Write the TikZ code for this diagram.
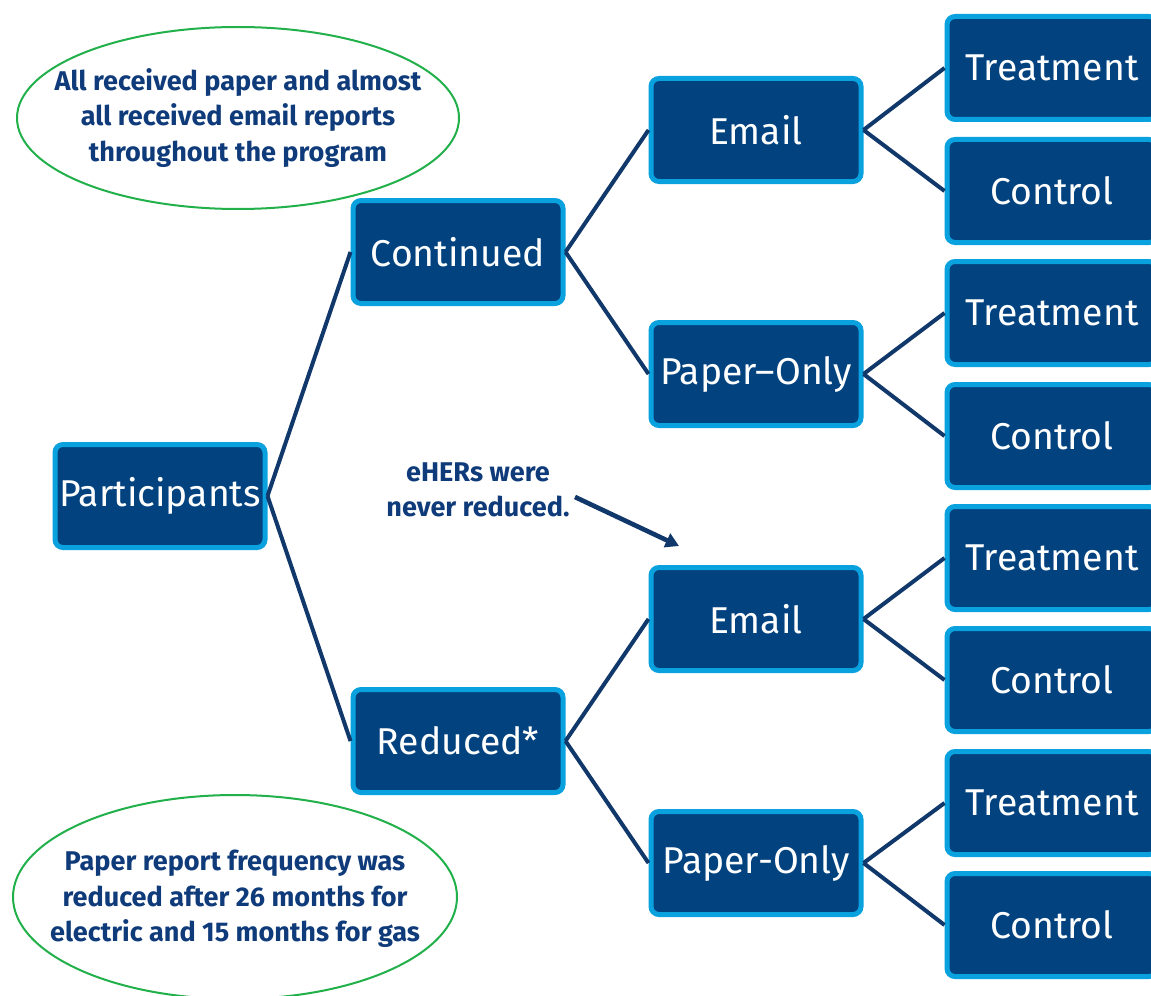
\documentclass[tikz,border=0pt]{standalone}
\usepackage{fontspec}
\setmainfont{Fira Sans}
\usetikzlibrary{arrows.meta}
\definecolor{boxfill}{HTML}{02427F}
\definecolor{boxedge}{HTML}{0AA2DE}
\definecolor{linkcol}{HTML}{11386A}
\definecolor{txtnavy}{HTML}{0F3B7A}
\definecolor{ellgreen}{HTML}{22B04A}
\tikzset{
  stepbox/.style={rectangle, rounded corners=6pt, fill=boxfill, draw=boxedge,
    line width=3.75pt, minimum width=157.5pt, minimum height=77.25pt,
    text=white, font=\fontsize{28}{32}\selectfont, inner sep=0pt},
  link/.style={draw=linkcol, line width=3pt},
  notetext/.style={text=txtnavy, font=\bfseries\fontsize{20.3}{26.5}\selectfont, align=center, inner sep=0pt},
  noteline/.style={draw=ellgreen, line width=1.5pt},
}
\begin{document}
\begin{tikzpicture}[x=0.75pt,y=-0.75pt]
\useasboundingbox (0,0) rectangle (1151,995);
\fill[white] (0,0) rectangle (1151,995);
% ellipses
\node[notetext] (n1) at (238,118) {All received paper and almost\\all received email reports\\throughout the program};
\draw[noteline] (n1.center) ellipse [x radius=165.75pt, y radius=68.25pt];
\node[notetext] (n2) at (235,899) {Paper report frequency was\\reduced after 26 months for\\electric and 15 months for gas};
\draw[noteline] (235,897) ellipse [x radius=166.5pt, y radius=76.5pt];
% boxes
\node[stepbox] (p) at (160,496) {Participants};
\node[stepbox] (c) at (458,252) {Continued};
\node[stepbox] (r) at (458,741) {Reduced*};
\node[stepbox] (ce) at (756,130) {Email};
\node[stepbox] (cp) at (756,374) {Paper–Only};
\node[stepbox] (re) at (756,619) {Email};
\node[stepbox] (rp) at (756,863) {Paper-Only};
\node[stepbox] (t1) at (1052,68) {Treatment};
\node[stepbox] (k1) at (1052,191) {Control};
\node[stepbox] (t2) at (1052,313) {Treatment};
\node[stepbox] (k2) at (1052,436) {Control};
\node[stepbox] (t3) at (1052,558) {Treatment};
\node[stepbox] (k3) at (1052,680) {Control};
\node[stepbox] (t4) at (1052,803) {Treatment};
\node[stepbox] (k4) at (1052,925) {Control};
% connectors
\draw[link] (p.east) -- (c.west);
\draw[link] (p.east) -- (r.west);
\draw[link] (c.east) -- (ce.west);
\draw[link] (c.east) -- (cp.west);
\draw[link] (r.east) -- (re.west);
\draw[link] (r.east) -- (rp.west);
\draw[link] (ce.east) -- (t1.west);
\draw[link] (ce.east) -- (k1.west);
\draw[link] (cp.east) -- (t2.west);
\draw[link] (cp.east) -- (k2.west);
\draw[link] (re.east) -- (t3.west);
\draw[link] (re.east) -- (k3.west);
\draw[link] (rp.east) -- (t4.west);
\draw[link] (rp.east) -- (k4.west);
% annotation
\node[text=txtnavy, font=\bfseries\fontsize{20.3}{26.5}\selectfont, align=center] (ann) at (478,490) {eHERs were\\never reduced.};
\coordinate (as) at (575,497);
\coordinate (ae) at (679,546);
\draw[draw=linkcol, line width=3.5pt, -{Triangle[length=10pt,width=11pt]}] (as) -- (ae);
\end{tikzpicture}
\end{document}
